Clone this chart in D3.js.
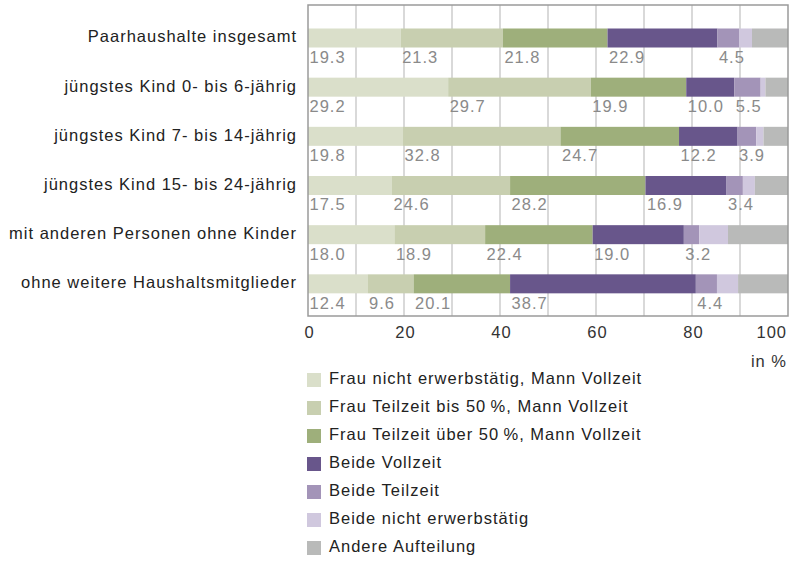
<!DOCTYPE html>
<html>
<head>
<meta charset="utf-8">
<script src="https://cdn.jsdelivr.net/npm/d3@7"></script>
<style>
  html, body { margin: 0; padding: 0; background: #fff; }
  svg { display: block; font-family: "Liberation Sans", Arial, sans-serif; letter-spacing: 1px; }
</style>
</head>
<body>
<svg id="chart" width="794" height="561"></svg>
<script>
// Household types (rows)
const categories = [
  "Paarhaushalte insgesamt",
  "jüngstes Kind 0- bis 6-jährig",
  "jüngstes Kind 7- bis 14-jährig",
  "jüngstes Kind 15- bis 24-jährig",
  "mit anderen Personen ohne Kinder",
  "ohne weitere Haushaltsmitglieder"
];

// Employment arrangements (stack order)
const seriesNames = [
  "Frau nicht erwerbstätig, Mann Vollzeit",
  "Frau Teilzeit bis 50\u2009%, Mann Vollzeit",
  "Frau Teilzeit über 50\u2009%, Mann Vollzeit",
  "Beide Vollzeit",
  "Beide Teilzeit",
  "Beide nicht erwerbstätig",
  "Andere Aufteilung"
];

// Shares in % per series, one value per category
const frauNichtErwerbstaetig = [19.3, 29.2, 19.8, 17.5, 18.0, 12.4];
const frauTeilzeitBis50      = [21.3, 29.7, 32.8, 24.6, 18.9,  9.6];
const frauTeilzeitUeber50    = [21.8, 19.9, 24.7, 28.2, 22.4, 20.1];
const beideVollzeit          = [22.9, 10.0, 12.2, 16.9, 19.0, 38.7];
const beideTeilzeit          = [ 4.5,  5.5,  3.9,  3.4,  3.2,  4.4];
const beideNichtErwerbstaetig= [ 2.7,  1.0,  1.5,  2.5,  6.0,  4.4];
const andereAufteilung       = [ 7.5,  4.7,  5.1,  6.9, 12.5, 10.4];

// Only the first five arrangements carry a value label
const labelledSeries = 5;

const xTicks = [0, 20, 40, 60, 80, 100];
const axisUnit = "in %";

const colors = ["#dadfca", "#c8cfb0", "#9eaf7b", "#68568b", "#a394b8", "#d0c8de", "#b9bab9"];

const values = [frauNichtErwerbstaetig, frauTeilzeitBis50, frauTeilzeitUeber50,
                beideVollzeit, beideTeilzeit, beideNichtErwerbstaetig, andereAufteilung];

const rows = categories.map((c, i) => {
  const r = { category: c };
  seriesNames.forEach((s, j) => { r[s] = values[j][i]; });
  return r;
});

const stack = d3.stack().keys(seriesNames);
const layers = stack(rows);

const svg = d3.select("#chart");

const plot = { left: 308, right: 788, top: 5, bottom: 316 };
const x = d3.scaleLinear().domain([0, 100]).range([plot.left, plot.right]);
const y = d3.scaleBand().domain(categories).range([13, 308]).padding(0);
const barOffset = 15.5, barHeight = 19;

// Vertical gridlines every 10 %
svg.append("g")
  .selectAll("line")
  .data(d3.range(10, 100, 10))
  .join("line")
  .attr("x1", d => x(d)).attr("x2", d => x(d))
  .attr("y1", plot.top).attr("y2", plot.bottom)
  .attr("stroke", "#b3b3b3").attr("stroke-width", 1);

// Bars
const layerG = svg.append("g")
  .selectAll("g")
  .data(layers)
  .join("g")
  .attr("fill", (d, i) => colors[i]);

layerG.selectAll("rect")
  .data(d => d)
  .join("rect")
  .attr("x", d => x(d[0]))
  .attr("width", d => x(d[1]) - x(d[0]))
  .attr("y", d => y(d.data.category) + barOffset)
  .attr("height", barHeight);

// Value labels below each bar, at the start of their segment
svg.append("g")
  .selectAll("g")
  .data(layers.slice(0, labelledSeries))
  .join("g")
  .selectAll("text")
  .data(d => d.map(p => ({ p, key: d.key })))
  .join("text")
  .attr("x", d => x(d.p[0]) + 1.5)
  .attr("y", d => y(d.p.data.category) + barOffset + barHeight + 11)
  .attr("dominant-baseline", "middle")
  .attr("font-size", 16.5)
  .attr("fill", "#8a8a8a")
  .text(d => d3.format(".1f")(d.p.data[d.key]));

// Plot frame
svg.append("rect")
  .attr("x", plot.left).attr("y", plot.top)
  .attr("width", plot.right - plot.left).attr("height", plot.bottom - plot.top)
  .attr("fill", "none").attr("stroke", "#9a9a9a").attr("stroke-width", 1.5);

// Category labels
svg.append("g")
  .selectAll("text")
  .data(categories)
  .join("text")
  .attr("x", 297)
  .attr("y", d => y(d) + barOffset + barHeight / 2)
  .attr("text-anchor", "end")
  .attr("dominant-baseline", "middle")
  .attr("font-size", 16.5)
  .attr("fill", "#222")
  .text(d => d);

// X axis tick labels
svg.append("g")
  .selectAll("text")
  .data(xTicks)
  .join("text")
  .attr("x", (d, i) => i === xTicks.length - 1 ? x(d) - 1 : x(d) + 1.5)
  .attr("y", 334)
  .attr("text-anchor", (d, i) => i === xTicks.length - 1 ? "end" : "middle")
  .attr("dominant-baseline", "middle")
  .attr("font-size", 16.5)
  .attr("fill", "#333")
  .text(d => d);

svg.append("text")
  .attr("x", plot.right - 1).attr("y", 363)
  .attr("text-anchor", "end")
  .attr("dominant-baseline", "middle")
  .attr("font-size", 16.5)
  .attr("fill", "#333")
  .text(axisUnit);

// Legend
const legend = svg.append("g")
  .selectAll("g")
  .data(seriesNames)
  .join("g")
  .attr("transform", (d, i) => `translate(307, ${380 + i * 28})`);

legend.append("rect")
  .attr("x", 0).attr("y", -7)
  .attr("width", 14).attr("height", 14)
  .attr("fill", (d, i) => colors[i]);

legend.append("text")
  .attr("x", 22).attr("y", 0)
  .attr("dominant-baseline", "middle")
  .attr("font-size", 16.5)
  .attr("fill", "#222")
  .text(d => d);
</script>
</body>
</html>
